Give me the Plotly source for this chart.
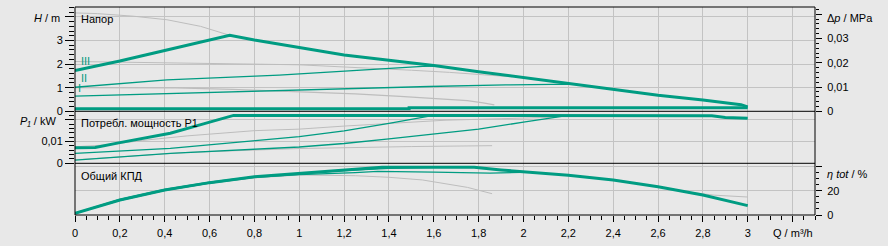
import plotly.graph_objects as go

TEAL = "#009c82"
GRAY = "#bdbdbd"
GRID = "#c3c3c3"
BG = "#e8e8e8"
FONT = "Liberation Sans, Arial, sans-serif"

# ---------------- Head panel (H / m) ----------------
q_head_max = [0, 0.2, 0.4, 0.6, 0.69, 0.8, 0.86, 1.0, 1.2, 1.4, 1.6, 1.8, 2.0, 2.2, 2.4, 2.6, 2.8, 2.9, 2.97, 3.0]
h_head_max = [1.73, 2.13, 2.58, 3.0, 3.22, 3.02, 2.92, 2.70, 2.39, 2.17, 1.94, 1.68, 1.43, 1.19, 0.93, 0.68, 0.48, 0.38, 0.28, 0.19]

q_head_II = [0, 0.41, 0.91, 1.33, 1.55, 1.62]
h_head_II = [1.02, 1.33, 1.53, 1.79, 1.90, 1.92]

q_head_I = [0, 0.5, 0.91, 1.25, 1.58, 1.92, 2.22, 2.26]
h_head_I = [0.64, 0.77, 0.88, 0.98, 1.05, 1.12, 1.15, 1.12]

q_head_base = [0, 1.49, 1.49, 3.0]
h_head_base = [0.106, 0.106, 0.15, 0.15]

q_head_g1 = [0, 0.1, 0.26, 0.41, 0.56, 0.69]
h_head_g1 = [4.17, 4.14, 4.03, 3.88, 3.60, 3.22]

q_head_g2 = [0, 0.4, 0.8, 1.0, 1.25, 1.5, 1.67, 1.85, 1.95]
h_head_g2 = [2.11, 2.07, 2.0, 1.97, 1.87, 1.74, 1.65, 1.52, 1.46]

q_head_g3 = [0, 0.45, 0.7, 0.9, 1.05, 1.25, 1.45, 1.6, 1.75, 1.82, 1.87]
h_head_g3 = [1.0, 0.99, 0.93, 0.86, 0.83, 0.74, 0.63, 0.55, 0.45, 0.36, 0.27]

# ---------------- Power panel (P1 / kW) ----------------
q_pow_max = [0, 0.09, 0.2, 0.3, 0.425, 0.573, 0.707, 1.5, 2.5, 2.84, 2.9, 3.0]
p_pow_max = [0.0072, 0.0073, 0.0095, 0.0114, 0.0138, 0.0181, 0.0220, 0.0220, 0.0220, 0.0218, 0.0211, 0.0207]

q_pow_II = [0, 0.425, 1.0, 1.2, 1.4, 1.58, 1.62]
p_pow_II = [0.0046, 0.0069, 0.0123, 0.0149, 0.0183, 0.0217, 0.0220]

q_pow_I = [0, 0.425, 1.0, 1.2, 1.4, 1.6, 1.8, 2.0, 2.07, 2.15, 2.2]
p_pow_I = [0.0015, 0.0046, 0.0075, 0.0091, 0.0112, 0.0134, 0.0157, 0.0189, 0.0200, 0.0215, 0.0220]

q_pow_g2 = [0, 0.15, 0.3, 0.5, 0.8, 1.0, 1.2, 1.4, 1.65, 1.9, 2.15]
p_pow_g2 = [0.0076, 0.0085, 0.0105, 0.0126, 0.0150, 0.0157, 0.0171, 0.0184, 0.0198, 0.0205, 0.0212]

q_pow_g3 = [0, 0.5, 1.0, 1.2, 1.5, 1.86]
p_pow_g3 = [0.0016, 0.0050, 0.0068, 0.0072, 0.0077, 0.0081]

# ---------------- Efficiency panel (eta tot / %) ----------------
q_eff_max = [0, 0.2, 0.4, 0.6, 0.8, 1.0, 1.2, 1.37, 1.5, 1.6, 1.78, 1.9, 2.0, 2.2, 2.4, 2.6, 2.8, 3.0]
e_eff_max = [1.4, 12.3, 20.6, 26.6, 31.5, 34.3, 37.0, 39.2, 39.3, 39.3, 39.2, 37.0, 35.7, 32.7, 28.8, 23.3, 16.5, 7.7]

q_eff_II = [0, 0.2, 0.4, 0.6, 0.8, 1.0, 1.2, 1.4, 1.6]
e_eff_II = [1.4, 12.8, 21.0, 27.0, 31.5, 34.0, 36.5, 38.3, 39.2]

q_eff_I = [0, 0.2, 0.4, 0.6, 0.8, 1.0, 1.25, 1.35, 1.6, 1.85, 2.04]
e_eff_I = [1.4, 12.0, 20.3, 26.2, 31.0, 33.2, 34.8, 35.8, 35.2, 34.4, 35.2]

q_eff_g3 = [0, 0.2, 0.4, 0.6, 0.8, 1.0, 1.25, 1.4, 1.55, 1.65, 1.75, 1.86]
e_eff_g3 = [1.4, 11.8, 20.0, 26.0, 30.5, 32.9, 32.3, 31.0, 28.8, 26.0, 22.7, 17.5]

q_eff_g4 = [2.6, 2.75, 2.85, 2.92, 3.0]
e_eff_g4 = [23.3, 18.5, 16.3, 15.6, 14.8]

# ---------------- Axis ticks ----------------
x_tick_vals = [0, 0.2, 0.4, 0.6, 0.8, 1.0, 1.2, 1.4, 1.6, 1.8, 2.0, 2.2, 2.4, 2.6, 2.8, 3.0, 3.2]
x_tick_text = ["0", "0,2", "0,4", "0,6", "0,8", "1", "1,2", "1,4", "1,6", "1,8", "2", "2,2", "2,4", "2,6", "2,8", "3", ""]
h_tick_vals = [0, 1, 2, 3, 4]
h_tick_text = ["0", "1", "2", "3", ""]
p_tick_vals = [0, 0.01, 0.02]
p_tick_text = ["0", "0,01", ""]
e_tick_vals = [0, 20, 40]
e_tick_text = ["0", "20", ""]
dp_tick_vals = [0, 0.01, 0.02, 0.03, 0.04]
dp_tick_text = ["0", "0,01", "0,02", "0,03", ""]

# ---------------- Figure ----------------
W, H = 888, 246
ML, MR, MT, MB = 75, 73, 7, 31
PW, PH = W - ML - MR, H - MT - MB
SEP1_PX, SEP2_PX = 111.3, 163.3
d_head = [(H - MB - SEP1_PX) / PH, 1]
d_pow = [(H - MB - SEP2_PX) / PH, (H - MB - SEP1_PX) / PH]
d_eff = [0, (H - MB - SEP2_PX) / PH]


def px_x(px):
    return (px - ML) / PW


def px_y(py):
    return (H - MB - py) / PH


fig = go.Figure()


def add_line(q, v, yaxis, color, width):
    fig.add_trace(go.Scatter(x=q, y=v, yaxis=yaxis, mode="lines",
                             line=dict(color=color, width=width),
                             showlegend=False, hoverinfo="skip"))


# gray
add_line(q_head_g1, h_head_g1, "y", GRAY, 1)
add_line(q_head_g2, h_head_g2, "y", GRAY, 1)
add_line(q_head_g3, h_head_g3, "y", GRAY, 1.3)
add_line(q_pow_g2, p_pow_g2, "y2", GRAY, 1)
add_line(q_pow_g3, p_pow_g3, "y2", GRAY, 1)
add_line(q_eff_g3, e_eff_g3, "y3", GRAY, 1)
add_line(q_eff_g4, e_eff_g4, "y3", GRAY, 1)
# thin teal
add_line(q_head_II, h_head_II, "y", TEAL, 1.3)
add_line(q_head_I, h_head_I, "y", TEAL, 1.3)
add_line(q_pow_II, p_pow_II, "y2", TEAL, 1.3)
add_line(q_pow_I, p_pow_I, "y2", TEAL, 1.3)
add_line(q_eff_II, e_eff_II, "y3", TEAL, 1.3)
add_line(q_eff_I, e_eff_I, "y3", TEAL, 1.3)
# thick teal
add_line(q_head_max, h_head_max, "y", TEAL, 3)
add_line(q_head_base, h_head_base, "y", TEAL, 3)
add_line(q_pow_max, p_pow_max, "y2", TEAL, 3)
add_line(q_eff_max, e_eff_max, "y3", TEAL, 3)
# empty trace to register the right-hand pressure axis
fig.add_trace(go.Scatter(x=[None], y=[None], yaxis="y4", mode="lines",
                         showlegend=False, hoverinfo="skip"))

tickfont = dict(family=FONT, size=11, color="black")


def yax(domain, rng, tv, tt, side, ticklen, minor_dtick, minor_len, grid=True, standoff=0, **kw):
    d = dict(domain=domain, range=rng, tickmode="array", tickvals=tv, ticktext=tt,
             side=side, anchor="x", ticks="outside", ticklen=ticklen, tickcolor="black",
             tickwidth=1, showgrid=grid, gridcolor=GRID, gridwidth=1, zeroline=False,
             showline=False, tickfont=tickfont, fixedrange=True, ticklabelstandoff=standoff,
             minor=dict(dtick=minor_dtick, tick0=0, ticks="outside", ticklen=minor_len,
                        tickcolor="black", tickwidth=1, showgrid=False))
    d.update(kw)
    return d


fig.update_layout(
    width=W, height=H,
    margin=dict(l=ML, r=MR, t=MT, b=MB, pad=0),
    paper_bgcolor=BG, plot_bgcolor=BG,
    font=dict(family=FONT, size=11, color="black"),
    xaxis=dict(domain=[0, 1], range=[0, 3.3], anchor="y3", tickmode="array",
               tickvals=x_tick_vals, ticktext=x_tick_text, ticks="outside", ticklen=6,
               tickcolor="black", tickwidth=1, showgrid=True, gridcolor=GRID, gridwidth=1,
               zeroline=False, showline=False, tickfont=tickfont, fixedrange=True,
               ticklabelstandoff=2,
               minor=dict(dtick=0.05, tick0=0, ticks="outside", ticklen=4,
                          tickcolor="black", tickwidth=1, showgrid=False)),
    yaxis=yax(d_head, [0, 4.42], h_tick_vals, h_tick_text, "left", 9, 0.2, 5),
    yaxis2=yax(d_pow, [0, 0.0239], p_tick_vals, p_tick_text, "left", 9, 0.002, 5),
    yaxis3=yax(d_eff, [0, 42.5], e_tick_vals, e_tick_text, "right", 6, 5, 3, standoff=3),
    yaxis4=yax(d_head, [0, 0.043], dp_tick_vals, dp_tick_text, "right", 6, 0.002, 3,
               grid=False, standoff=3, overlaying="y"),
)

# frame and panel separators
for y0 in [0, d_pow[0], d_head[0], 1]:
    fig.add_shape(type="line", xref="paper", yref="paper", x0=0, x1=1, y0=y0, y1=y0,
                  line=dict(color="black", width=1))
for x0 in [0, 1]:
    fig.add_shape(type="line", xref="paper", yref="paper", x0=x0, x1=x0, y0=0, y1=1,
                  line=dict(color="black", width=1))


def note(text, px, py, anchor="left", color="black", size=11):
    fig.add_annotation(text=text, xref="paper", yref="paper", x=px_x(px), y=px_y(py),
                       xanchor=anchor, yanchor="middle", showarrow=False, borderpad=0,
                       font=dict(family=FONT, size=size, color=color))


note("<i>H</i> / m", 61, 18, anchor="right")
note("<i>P₁</i> / kW", 57, 121.5, anchor="right")
note("Δ<i>p</i> / MPa", 826, 18.3)
note("<i>η tot</i> / %", 826, 174.3)
note("Q / m³/h", 792.7, 233.3, anchor="center")
note("Напор", 80, 19)
note("Потребл. мощность P1", 80, 123)
note("Общий КПД", 80, 175.7)
note("III", 80, 61, color=TEAL)
note("II", 80, 77.5, color=TEAL)
note("I", 77, 88, color=TEAL)

fig.write_html("out.html")
